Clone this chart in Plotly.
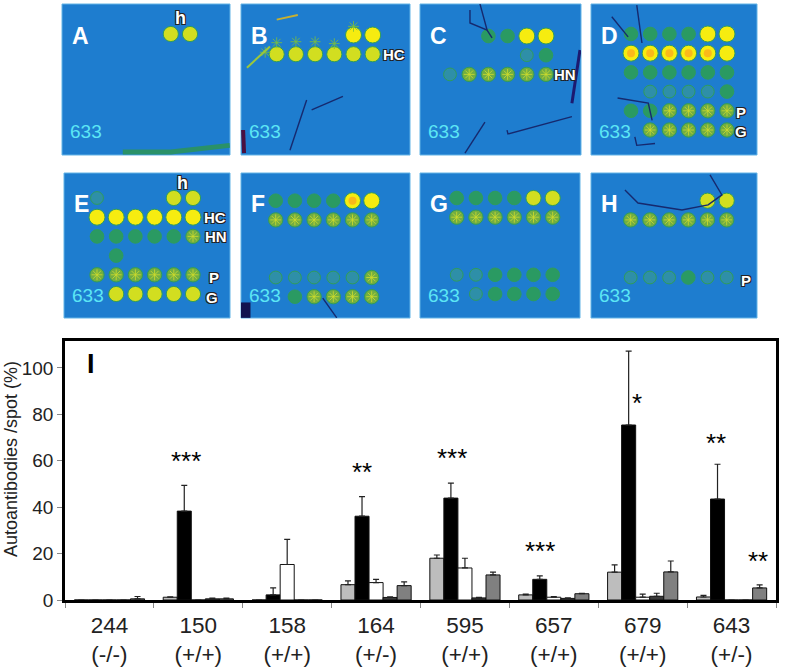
import plotly.graph_objects as go

W, H = 785, 670

# ---- bar chart data ----
groups = ['244', '150', '158', '164', '595', '657', '679', '643']
genotypes = ['(-/-)', '(+/+)', '(+/+)', '(+/-)', '(+/+)', '(+/+)', '(+/+)', '(+/-)']
s1 = [0, 1.2, 0, 6.6, 18, 2.2, 12, 1.3]
s2 = [0, 38.3, 2.2, 36.1, 43.9, 8.9, 75.4, 43.5]
s3 = [0, 0, 15.3, 7.5, 13.8, 1.2, 1.2, 0]
s4 = [0, 0.5, 0, 1.1, 0.9, 0.7, 1.6, 0]
s5 = [0.5, 0.5, 0, 6.2, 10.8, 2.7, 12.1, 5.2]
e1 = [0, 0.2, 0, 1.6, 1.4, 0.3, 3.1, 0.7]
e2 = [0, 11.1, 3, 8.4, 6.5, 1.5, 31.8, 15]
e3 = [0, 0, 10.8, 1.4, 4.2, 0.3, 1.3, 0]
e4 = [0, 0.3, 0, 0.3, 0.2, 0.2, 1.3, 0]
e5 = [1, 0.3, 0, 1.6, 1.2, 0.2, 4.7, 1.3]
series_colors = ['#bdbdbd', '#000000', '#ffffff', '#3a3a3a', '#808080']

star_text = ['***', '**', '***', '***', '*', '**', '**']
star_x = [0.86, 2.84, 3.85, 4.85, 5.935, 6.83, 7.30]
star_y = [60, 55, 61, 21, 85, 67.5, 17]

# ---- array panels: spot brightness, rows top to bottom, 6 columns ----
levels_A = [[0, 0, 0, 0, 4, 4], [0] * 6, [0] * 6, [0] * 6, [0] * 6, [0] * 6]
levels_B = [[0, 0, 0, 0, 5, 5], [4, 4, 4, 4, 4, 4], [0] * 6, [0] * 6, [0] * 6, [0] * 6]
levels_C = [[0, 0, 2, 2, 5, 5], [0, 0, 0, 0, 1, 2], [1, 3, 3, 3, 3, 3], [0] * 6, [0] * 6, [0] * 6]
levels_D = [[2, 2, 2, 2, 5, 5], [5, 5, 5, 5, 5, 5], [2, 2, 2, 2, 2, 2],
            [0, 1, 1, 1, 1, 2], [2, 2, 3, 3, 3, 3], [0, 3, 3, 3, 3, 3]]
levels_E = [[1, 0, 0, 0, 4, 4], [5, 5, 5, 5, 5, 5], [2, 2, 2, 2, 2, 3],
            [0, 2, 0, 0, 0, 0], [3, 3, 3, 3, 3, 3], [0, 4, 4, 4, 4, 4]]
levels_F = [[2, 2, 2, 2, 5, 5], [3, 3, 3, 3, 3, 3], [0] * 6, [0] * 6,
            [1, 1, 1, 1, 1, 3], [0, 2, 3, 3, 3, 3]]
levels_G = [[2, 2, 2, 2, 4, 4], [3, 3, 3, 3, 3, 3], [0] * 6, [0] * 6,
            [1, 1, 2, 2, 2, 2], [0, 1, 2, 2, 2, 2]]
levels_H = [[0, 0, 0, 0, 4, 4], [3, 3, 3, 3, 3, 3], [0] * 6, [0] * 6,
            [1, 1, 1, 2, 1, 1], [0] * 6]
panel_levels = [levels_A, levels_B, levels_C, levels_D, levels_E, levels_F, levels_G, levels_H]
level_scale = [[0, '#1e7dcf'], [0.2, '#2e8fa8'], [0.4, '#2a9a62'], [0.6, '#72ae42'],
               [0.8, '#d2de20'], [1, '#f6ec10']]

panel_names = ['A', 'B', 'C', 'D', 'E', 'F', 'G', 'H']
# left, right, top, bottom of each panel and the place of its first spot
panel_left = [62, 241, 420, 591, 64, 241, 420, 591]
panel_right = [230, 410, 581, 757, 230, 410, 580, 757]
panel_top = [4, 4, 4, 4, 173, 173, 173, 173]
panel_bottom = [155, 155, 155, 155, 318, 318, 318, 318]
first_col = [94, 276.7, 450, 631, 97, 275.7, 456.7, 630.7]
first_row = [34, 35, 36, 34, 198, 200.7, 198, 200.7]
pitch = 19.2

# hottest spot centres
hot_panel = [3, 3, 3, 3, 3, 5]
hot_col = [1, 2, 3, 4, 5, 5]
hot_row = [2, 2, 2, 2, 2, 1]

# fuzzy streaks above the spots of panel B
fuzz_col = [1, 2, 3, 4, 0.4, 5]
fuzz_row = [1.4, 1.35, 1.35, 1.45, 1.9, 0.55]

# row labels beside the spots: panel index, text, column, row, size
label_panel = [0, 1, 2, 3, 3, 4, 4, 4, 4, 4, 7]
label_text = ['h', 'HC', 'HN', 'P', 'G', 'h', 'HC', 'HN', 'P', 'G', 'P']
label_col = [5.5, 7.1, 7.0, 6.75, 6.75, 5.45, 7.15, 7.2, 7.1, 7.0, 7.0]
label_row = [0.15, 2, 3, 5.1, 6.1, 0.2, 2, 3, 5.15, 6.2, 5.18]
label_size = [18, 15, 15, 15, 15, 18, 15, 15, 15, 15, 15]

# scratches and stains on the slides, in spot grid units
scratch_panel = [1, 1, 1, 2, 2, 2, 2, 2, 3, 3, 3, 3, 5, 5, 7, 0, 1, 1]
scratch_col = [[2.56, 1.69], [2.82, 4.45], [-0.75, -0.7], [2.04, 2.04, 2.93, 3.19], [2.56, 2.93],
               [3.97, 4.02, 7.35], [1.78, 2.82], [7.77, 7.35], [1.3, 1.57], [0, 0.85], [0.3, 1.9, 2.1],
               [1.2, 1.3, 2.25], [3.45, 4.18], [-0.6, -0.6], [0.7, 1.38, 3.67, 5.03, 5.75, 5.13],
               [2.5, 5, 8.07], [-0.55, 0.65], [1, 2.1]]
scratch_row = [[4.39, 7], [4.9, 4.2], [5.95, 7.15], [-0.35, 0.32, 0.69, 1.1], [-0.67, 0.69],
               [5.9, 6.1, 5.2], [7.1, 5.48], [1.73, 4.5], [-0.5, 1.47], [0.1, 1.15], [4.33, 4.6, 5.5],
               [6.36, 6.8, 6.7], [6.07, 7.1], [6.3, 7.1], [0.44, 1.12, 1.48, 1.22, 0.7, -0.34],
               [7.15, 7.15, 6.8], [2.7, 1.6], [0.2, -0.04]]
scratch_color = ['#16296e'] * 2 + ['#4a1040'] + ['#16296e'] * 4 + ['#1c1a70'] + ['#16296e'] * 4 + \
                ['#16296e', '#12124e', '#16296e', '#2a9168', '#9cc83a', '#c8b030']
scratch_width = [1.4, 1.4, 4, 1.4, 1.4, 1.4, 1.4, 3, 1.4, 1.4, 1.4, 1.4, 1.4, 11, 1.4, 5, 2, 2]

fig = go.Figure()

# bars
for vals, errs, col in zip([s1, s2, s3, s4, s5], [e1, e2, e3, e4, e5], series_colors):
    fig.add_trace(go.Bar(
        x=groups, y=vals, marker_color=col, marker_line_color='#111111', marker_line_width=1,
        error_y=dict(type='data', array=errs, symmetric=False, arrayminus=[0] * len(errs),
                     color='#222222', thickness=1.2, width=3),
        showlegend=False))

annotations = []
shapes = []
for t, x, y in zip(star_text, star_x, star_y):
    annotations.append(dict(x=x, y=y, xref='x', yref='y', text=t, showarrow=False,
                            font=dict(family='Liberation Sans', size=26, color='black')))
annotations.append(dict(x=85 / W, y=1 - 364 / H, xref='paper', yref='paper', text='<b>I</b>',
                        showarrow=False, font=dict(family='Liberation Sans', size=27, color='black')))
annotations.append(dict(x=11 / W, y=1 - 459 / H, xref='paper', yref='paper', textangle=-90,
                        xanchor='center', yanchor='middle',
                        text='Autoantibodies /spot (%)', showarrow=False,
                        font=dict(family='Liberation Sans', size=18, color='#222222')))

layout_axes = {}
outline = '-1px -1px 0 #222, 1px -1px 0 #222, -1px 1px 0 #222, 1px 1px 0 #222'
for i, name in enumerate(panel_names):
    n = i + 2
    l, r, t, b = panel_left[i], panel_right[i], panel_top[i], panel_bottom[i]
    x0 = 1 - (first_col[i] - l) / pitch
    x1 = 1 + (r - first_col[i]) / pitch
    y0 = 1 - (first_row[i] - t) / pitch
    y1 = 1 + (b - first_row[i]) / pitch
    layout_axes[f'xaxis{n}'] = dict(domain=[l / W, r / W], range=[x0, x1], visible=False,
                                    anchor=f'y{n}', fixedrange=True)
    layout_axes[f'yaxis{n}'] = dict(domain=[1 - b / H, 1 - t / H], range=[y1, y0], visible=False,
                                    anchor=f'x{n}', fixedrange=True)
    shapes.append(dict(type='rect', xref=f'x{n} domain', yref=f'y{n} domain', x0=0, x1=1, y0=0, y1=1,
                       fillcolor='#1e7dcf', line=dict(color='#63b4e6', width=1), layer='below'))

    cols, rows, lev = [], [], []
    for r_i, row in enumerate(panel_levels[i]):
        for c_i, v in enumerate(row):
            if v > 0:
                cols.append(c_i + 1)
                rows.append(r_i + 1)
                lev.append(v)
    fig.add_trace(go.Scatter(
        x=cols, y=rows, mode='markers', xaxis=f'x{n}', yaxis=f'y{n}', showlegend=False,
        marker=dict(size=[12 + v * 0.8 for v in lev], color=lev, cmin=0, cmax=5, colorscale=level_scale,
                    opacity=1, line=dict(color='#2f9c5c', width=1))))
    # level 3 spots are flecked, not solid
    fl_x = [c for c, v in zip(cols, lev) if v == 3]
    fl_y = [r_ for r_, v in zip(rows, lev) if v == 3]
    fig.add_trace(go.Scatter(
        x=fl_x, y=fl_y, mode='markers', xaxis=f'x{n}', yaxis=f'y{n}', showlegend=False,
        marker=dict(symbol='asterisk-open', size=9, opacity=0.8, color='#d0dc2c', line=dict(width=1))))

    annotations.append(dict(x=0.05, y=0.89, xref=f'x{n} domain', yref=f'y{n} domain', text=f'<b>{name}</b>',
                            xanchor='left', showarrow=False,
                            font=dict(family='Liberation Sans', size=23, color='white')))
    annotations.append(dict(x=0.035, y=0.07, xref=f'x{n} domain', yref=f'y{n} domain', text='633',
                            xanchor='left', showarrow=False,
                            font=dict(family='Liberation Sans', size=19, color='#5ce6f5')))

fig.add_trace(go.Scatter(x=fuzz_col, y=fuzz_row, mode='markers', xaxis='x3', yaxis='y3', showlegend=False,
                         marker=dict(symbol='asterisk-open', size=9, opacity=0.8, color='#7cc03a', line=dict(width=1))))

for p, c, r in zip(hot_panel, hot_col, hot_row):
    n = p + 2
    fig.add_trace(go.Scatter(x=[c], y=[r], mode='markers', xaxis=f'x{n}', yaxis=f'y{n}', showlegend=False,
                             marker=dict(size=8, color='#fca81c', opacity=0.75)))

for p, col_s, row_s, lc, lw in zip(scratch_panel, scratch_col, scratch_row, scratch_color, scratch_width):
    n = p + 2
    fig.add_trace(go.Scatter(x=col_s, y=row_s, mode='lines', xaxis=f'x{n}', yaxis=f'y{n}', showlegend=False,
                             line=dict(color=lc, width=lw)))

for p, text, c, r, sz in zip(label_panel, label_text, label_col, label_row, label_size):
    n = p + 2
    annotations.append(dict(x=c, y=r, xref=f'x{n}', yref=f'y{n}', text=f'<b>{text}</b>', showarrow=False,
                            font=dict(family='Liberation Sans', size=sz, color='white', shadow=outline)))

fig.update_layout(
    width=W, height=H, margin=dict(l=0, r=0, t=0, b=0, autoexpand=False),
    paper_bgcolor='white', plot_bgcolor='white', barmode='group', bargap=0.21, bargroupgap=0,
    showlegend=False, annotations=annotations, shapes=shapes,
    xaxis=dict(domain=[65 / W, 776 / W], type='category', showline=True, mirror=True, linecolor='black',
               linewidth=2.5, ticks='outside', ticklen=5, tickcolor='#888888', tickwidth=1, tickson='boundaries',
               tickvals=groups, ticktext=[f'{g}<br>{t}' for g, t in zip(groups, genotypes)], tickangle=0,
               ticklabelstandoff=3,
               tickfont=dict(family='Liberation Sans', size=22.5, color='#222222'), fixedrange=True),
    yaxis=dict(domain=[1 - 600 / H, 1 - 341 / H], range=[0, 111.6], showline=True, mirror=True,
               linecolor='black', linewidth=2.5, ticks='outside', ticklen=5, tickcolor='#888888', tickwidth=1,
               tickvals=[0, 20, 40, 60, 80, 100], showgrid=False, zeroline=False,
               tickfont=dict(family='Liberation Sans', size=19, color='#222222'),
               fixedrange=True),
    **layout_axes)

# plotly's page keeps the browser's 8px body margin, drop it so the figure fills the window
fig.write_html('out.html', config={'displayModeBar': False}, post_script="document.body.style.margin='0';")
